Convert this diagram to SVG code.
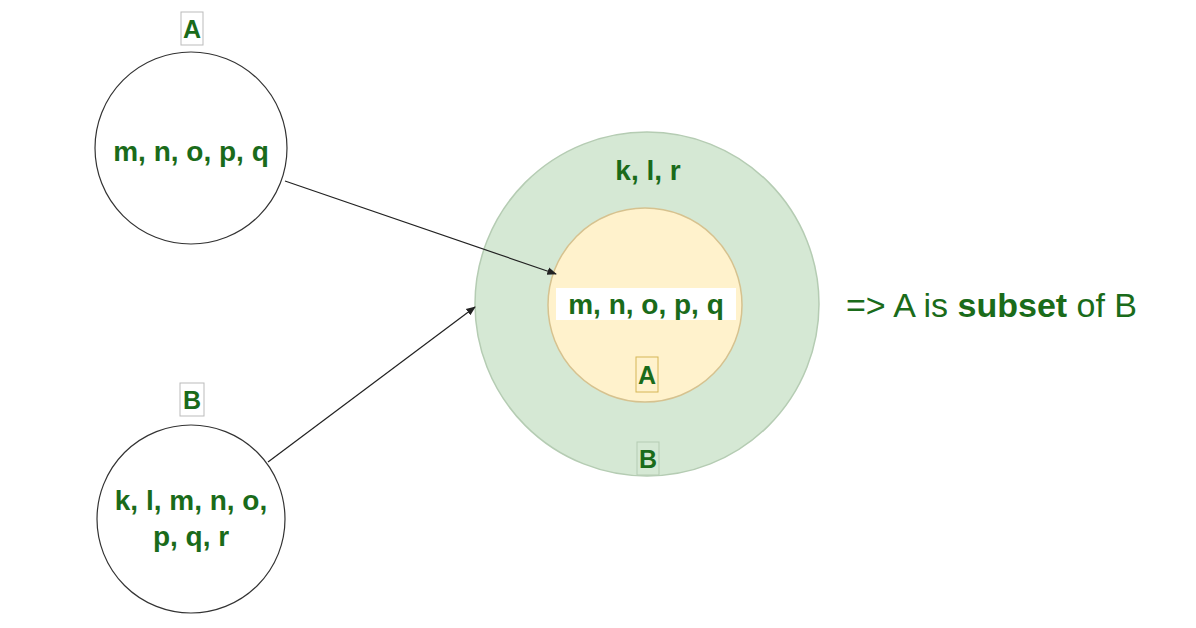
<svg xmlns="http://www.w3.org/2000/svg" width="1196" height="628" viewBox="0 0 1196 628">
<defs>
<marker id="ar" viewBox="0 0 10 10" refX="9" refY="5" markerWidth="8" markerHeight="8" orient="auto"><path d="M0,1 L10,5 L0,9 z" fill="#222"/></marker>
<style>
.t{font-family:"Liberation Sans",Arial,sans-serif;font-weight:bold;fill:#1a6b1a;font-size:28px;text-anchor:middle}
.s{font-size:25px}
.lb{fill:#fff;stroke:#bbb;stroke-width:1}
</style>
</defs>
<rect width="1196" height="628" fill="#fff"/>
<g id="setA">
<rect class="lb" x="181" y="12" width="22" height="33"/>
<text class="t s" x="192" y="38">A</text>
<circle cx="191" cy="148" r="96" fill="#fff" stroke="#333" stroke-width="1.2"/>
<text class="t" x="191" y="161">m, n, o, p, q</text>
</g>
<g id="setB">
<rect class="lb" x="180" y="383" width="24" height="33"/>
<text class="t s" x="192" y="409">B</text>
<circle cx="191" cy="519" r="94" fill="#fff" stroke="#333" stroke-width="1.2"/>
<text class="t" x="191" y="510">k, l, m, n, o,</text>
<text class="t" x="191" y="546">p, q, r</text>
</g>
<g id="outerB">
<circle cx="647" cy="304" r="172" fill="#d5e8d4" stroke="#b5ccb3" stroke-width="1.5"/>
<text class="t" x="648" y="180">k, l, r</text>
<rect x="637" y="442" width="22" height="33" fill="none" stroke="#b5ccb3"/>
<text class="t s" x="648" y="468">B</text>
</g>
<g id="innerA">
<circle cx="645" cy="305" r="97" fill="#fff2cc" stroke="#d6c28f" stroke-width="1.5"/>
<rect x="556" y="288" width="180" height="32" fill="#fff"/>
<text class="t" x="646" y="314">m, n, o, p, q</text>
<rect x="636" y="357" width="22" height="35" fill="none" stroke="#d6b656"/>
<text class="t s" x="647" y="384">A</text>
</g>
<g id="result">
<text x="846" y="317" style="font-family:'Liberation Sans',Arial,sans-serif;font-size:34px;fill:#1a6b1a">=&gt; A is <tspan font-weight="bold">subset</tspan> of B</text>
</g>
<g id="connectors" stroke="#222" stroke-width="1.2" fill="none">
<line x1="285" y1="181" x2="556" y2="274" marker-end="url(#ar)"/>
<line x1="268" y1="462" x2="475" y2="307" marker-end="url(#ar)"/>
</g>
</svg>
